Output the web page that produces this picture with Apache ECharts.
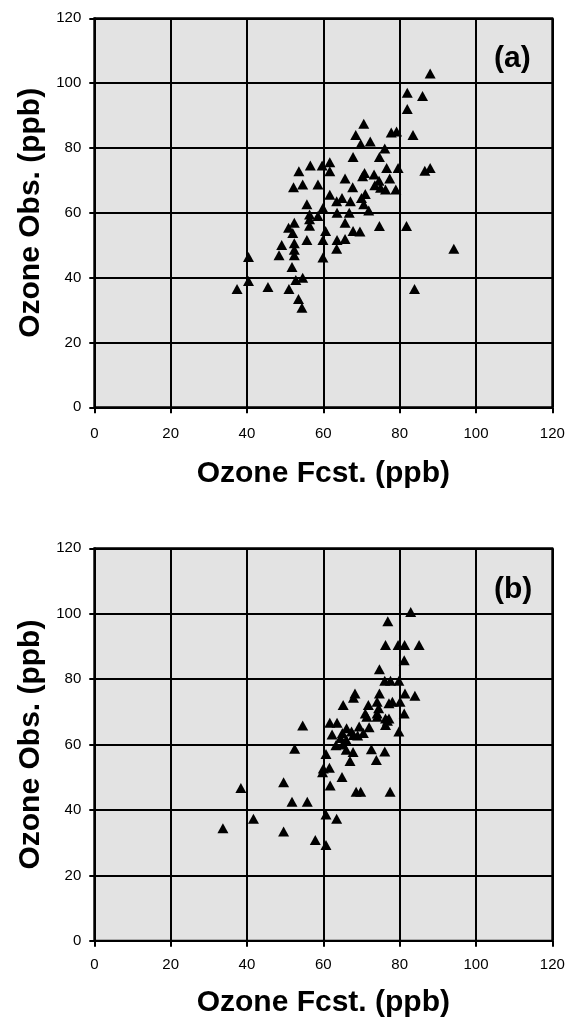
<!DOCTYPE html>
<html>
<head>
<meta charset="utf-8">
<script src="https://cdn.jsdelivr.net/npm/echarts@6/dist/echarts.min.js"></script>
<style>
html,body{margin:0;padding:0;background:#fff;}
#c{width:568px;height:1021px;}
</style>
</head>
<body>
<div id="c"></div>
<script>
// Panel labels and axis titles
var panelLabels = ['(a)', '(b)'];
var xTitle = 'Ozone Fcst. (ppb)';
var yTitle = 'Ozone Obs. (ppb)';
var axisMin = 0, axisMax = 120, axisStep = 20;

// Panel (a): [forecast, observed]
var pointsA = [
  [88,103],[82,97],[86,96],[82,92],[70.6,87.5],[68.5,84],[69.8,81.2],[72.3,82],[77.8,84.8],[79.2,85.1],
  [83.5,84],[76.1,79.8],[67.8,77.2],[74.7,77.2],[53.6,72.8],[56.6,74.6],[59.7,74.6],[61.7,75.6],[61.7,72.8],
  [52.2,67.9],[54.6,68.7],[58.6,68.7],[65.7,70.6],[67.7,67.9],[70.3,71.3],[70.8,72.3],[73.3,71.8],[74.6,69.9],
  [76.6,73.8],[79.6,73.8],[77.4,70.6],[75,67.7],[76.3,67.2],[79,67.2],[86.6,73],[88,73.8],[61.7,65.6],
  [63.5,63.6],[64.9,64.6],[67.1,63.6],[70,64.6],[70.6,62.6],[55.7,62.6],[59.9,61.5],[63.6,60],[66.8,60],
  [71.9,60.7],[56.4,59.5],[56.4,58],[56.4,56],[58.6,59],[52.4,56.9],[50.9,55.4],[52,53.8],[60.6,54.4],
  [65.7,56.9],[67.8,54.4],[69.6,54.2],[74.7,55.9],[81.8,55.9],[55.7,51.6],[59.9,51.6],[63.6,51.6],[65.7,51.9],
  [63.5,48.9],[49.1,50.1],[48.4,46.9],[52.4,50.6],[52.4,48.6],[52.4,46.9],[40.4,46.4],[59.9,46.2],[51.8,43.3],
  [40.4,39],[37.4,36.5],[45.5,37.1],[52.8,39.3],[54.6,40],[51,36.5],[53.5,33.4],[54.4,30.7],[94.2,48.9],
  [83.9,36.5],[73.5,68.5],[71,65.8]
];

// Panel (b): [forecast, observed]
var pointsB = [
  [82.9,100.5],[76.9,97.7],[76.3,90.4],[79.6,90.4],[81.3,90.4],[85.1,90.4],[81.2,85.8],[74.7,83],[76.1,79.5],
  [77.6,79.5],[79.8,79.5],[68.3,75.6],[67.9,74.3],[65.2,72.1],[74.7,75.6],[81.4,75.6],[84,74.9],[71.8,72.1],
  [74.1,73.1],[74.5,71.1],[77.2,72.6],[78.1,73.1],[80.1,73.1],[81.2,69.5],[71,69.5],[71.4,68.5],[74.1,69.5],
  [74.1,68.5],[76.3,68],[77.2,68],[76.3,66],[54.6,65.8],[61.7,66.7],[63.6,66.7],[69.4,65.5],[72,65.3],
  [79.8,64],[66.1,65],[67.4,64],[62.3,63.1],[65,63.5],[67.9,62.9],[64.5,62],[66,61.5],[69,62.8],[70.5,63.5],
  [76.8,67.3],[52.5,58.75],[60.7,57.1],[63.3,59.8],[65.1,60],[66,58.4],[67.8,57.7],[72.6,58.6],[76.1,57.9],
  [73.9,55.3],[67,55],[60,52.7],[61.6,52.9],[59.8,51.5],[64.9,50.1],[61.8,47.5],[68.6,45.6],[69.8,45.6],
  [77.5,45.6],[38.4,46.7],[49.6,48.5],[51.8,42.5],[55.8,42.5],[60.7,38.6],[63.5,37.3],[41.7,37.3],[33.7,34.4],
  [49.6,33.4],[57.9,30.8],[60.7,29.3]
];

var font = '"Liberation Sans", Arial, sans-serif';
var chart = echarts.init(document.getElementById('c'), null, {renderer: 'canvas'});

var grids = [
  {left: 94.3, top: 18.3, width: 458, height: 389},
  {left: 94.3, top: 548.3, width: 458, height: 392.5}
];
var xGaps = [19, 17];
var xNameGaps = [51, 47];

function xAxis(i) {
  return {
    type: 'value', gridIndex: i, min: axisMin, max: axisMax, interval: axisStep,
    name: xTitle, nameLocation: 'middle', nameGap: xNameGaps[i],
    nameTextStyle: {fontFamily: font, fontWeight: 'bold', fontSize: 30, color: '#000'},
    axisLine: {show: true, onZero: false, lineStyle: {color: '#000', width: 2}},
    axisTick: {show: true, inside: false, length: 6, lineStyle: {color: '#000', width: 2}},
    axisLabel: {fontFamily: font, fontSize: 15, color: '#000', margin: xGaps[i]},
    splitLine: {show: true, lineStyle: {color: '#000', width: 2}}
  };
}
function yAxis(i) {
  return {
    type: 'value', gridIndex: i, min: axisMin, max: axisMax, interval: axisStep,
    name: yTitle, nameLocation: 'middle', nameGap: 49,
    nameTextStyle: {fontFamily: font, fontWeight: 'bold', fontSize: 30, color: '#000'},
    axisLine: {show: true, onZero: false, lineStyle: {color: '#000', width: 2}},
    axisTick: {show: true, inside: false, length: 5, lineStyle: {color: '#000', width: 2}},
    axisLabel: {fontFamily: font, fontSize: 15, color: '#000', margin: 13},
    splitLine: {show: true, lineStyle: {color: '#000', width: 2}}
  };
}

var option = {
  backgroundColor: '#fff',
  animation: false,
  grid: grids.map(function (g) {
    return {left: g.left, top: g.top, width: g.width, height: g.height, show: true,
      backgroundColor: '#e3e3e3', borderColor: '#000', borderWidth: 2, containLabel: false};
  }),
  xAxis: [xAxis(0), xAxis(1)],
  yAxis: [yAxis(0), yAxis(1)],
  series: [
    {type: 'scatter', xAxisIndex: 0, yAxisIndex: 0, data: pointsA, symbol: 'triangle',
      symbolSize: [11, 10], itemStyle: {color: '#000', opacity: 1}},
    {type: 'scatter', xAxisIndex: 1, yAxisIndex: 1, data: pointsB, symbol: 'triangle',
      symbolSize: [11, 10], itemStyle: {color: '#000', opacity: 1}}
  ],
  graphic: [
    {type: 'text', left: 494, top: 44, style: {text: panelLabels[0], font: 'bold 30px ' + font, fill: '#000'}},
    {type: 'text', left: 494, top: 575, style: {text: panelLabels[1], font: 'bold 30px ' + font, fill: '#000'}}
  ]
};
chart.setOption(option);
</script>
</body>
</html>
